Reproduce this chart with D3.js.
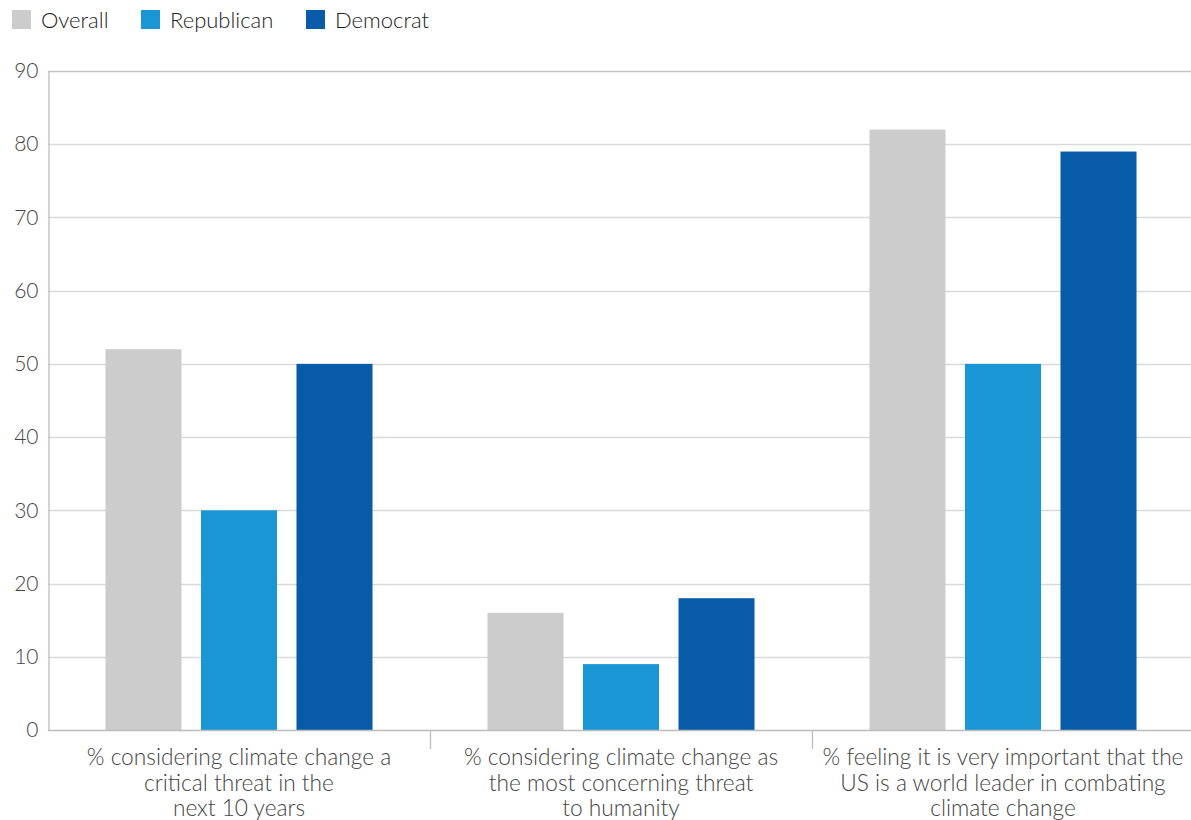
<!DOCTYPE html>
<html>
<head>
<meta charset="utf-8">
<script src="https://cdn.jsdelivr.net/npm/d3@7"></script>
<style>
  body { margin: 0; background: #fff; }
  svg { display: block; font-family: Lato, "Open Sans", sans-serif; font-weight: 300; }
</style>
</head>
<body>
<svg id="chart" width="1191" height="820"></svg>
<script>
const categories = [
  ["% considering climate change a", "critical threat in the", "next 10 years"],
  ["% considering climate change as", "the most concerning threat", "to humanity"],
  ["% feeling it is very important that the", "US is a world leader in combating", "climate change"]
];
const seriesNames = ["Overall", "Republican", "Democrat"];
const seriesColors = ["#cccccc", "#1b96d4", "#085ba8"];
const overall = [52, 16, 82];
const republican = [30, 9, 50];
const democrat = [50, 18, 79];
const yTicks = [0, 10, 20, 30, 40, 50, 60, 70, 80, 90];

const values = [overall, republican, democrat];
const svg = d3.select("#chart");
const W = 1191, H = 820;
const plotBottom = 730;

const x0 = d3.scaleBand().domain(d3.range(categories.length)).range([48, 1194]).padding(0);
const x1 = d3.scaleBand().domain(d3.range(seriesNames.length)).range([0, x0.bandwidth()])
  .paddingInner(0.204).paddingOuter(0.602);
const y = d3.scaleLinear().domain([0, 90]).range([plotBottom, 71]);

// gridlines
svg.append("g").selectAll("line").data(yTicks.filter(d => d > 0)).join("line")
  .attr("x1", 48).attr("x2", W).attr("y1", d => Math.round(y(d)) + 0.5).attr("y2", d => Math.round(y(d)) + 0.5)
  .attr("stroke", d => d === 90 ? "#c4c4c4" : "#d9d9d9").attr("stroke-width", 1.3);

// bars
const groups = svg.append("g").selectAll("g").data(categories).join("g")
  .attr("transform", (d, i) => `translate(${x0(i)},0)`);
groups.selectAll("rect").data((d, i) => values.map((s, j) => ({ s: j, v: s[i] }))).join("rect")
  .attr("x", d => x1(d.s)).attr("width", x1.bandwidth())
  .attr("y", d => y(d.v)).attr("height", d => y(0) - y(d.v))
  .attr("fill", d => seriesColors[d.s]);

// y axis
const yAxis = d3.axisLeft(y).tickValues(yTicks).tickSize(0).tickPadding(10);
const gy = svg.append("g").attr("transform", "translate(48.5,0)").call(yAxis);
gy.select(".domain").attr("stroke", "#bdbdbd").attr("stroke-width", 1.3);
gy.selectAll("text").attr("font-size", 21).attr("fill", "#444").attr("font-family", "Lato, sans-serif").attr("font-weight", 300);

// x axis line
svg.append("line").attr("x1", 48).attr("x2", W).attr("y1", plotBottom + 0.5).attr("y2", plotBottom + 0.5)
  .attr("stroke", "#bdbdbd").attr("stroke-width", 1.3);
// group separator ticks
svg.append("g").selectAll("line").data(d3.range(1, categories.length + 1)).join("line")
  .attr("x1", i => Math.round(x0(0) + i * x0.step()) + 0.5).attr("x2", i => Math.round(x0(0) + i * x0.step()) + 0.5)
  .attr("y1", plotBottom).attr("y2", plotBottom + 19)
  .attr("stroke", "#bdbdbd").attr("stroke-width", 1.3);

// category labels
const lab = svg.append("g").selectAll("text").data(categories).join("text")
  .attr("x", (d, i) => x0(i) + x0.bandwidth() / 2)
  .attr("y", 765)
  .attr("text-anchor", "middle").attr("font-size", 22.7).attr("fill", "#444");
lab.selectAll("tspan").data(d => d).join("tspan")
  .attr("x", function () { return d3.select(this.parentNode).attr("x"); })
  .attr("dy", (d, i) => i === 0 ? 0 : 25.5)
  .text(d => d);

// legend
const legendX = [12, 141, 306];
const leg = svg.append("g").selectAll("g").data(seriesNames).join("g")
  .attr("transform", (d, i) => `translate(${legendX[i]},10)`);
leg.append("rect").attr("width", 19).attr("height", 19).attr("fill", (d, i) => seriesColors[i]);
leg.append("text").attr("x", 29).attr("y", 17.5).attr("font-size", 22).attr("fill", "#222").text(d => d);
</script>
</body>
</html>
